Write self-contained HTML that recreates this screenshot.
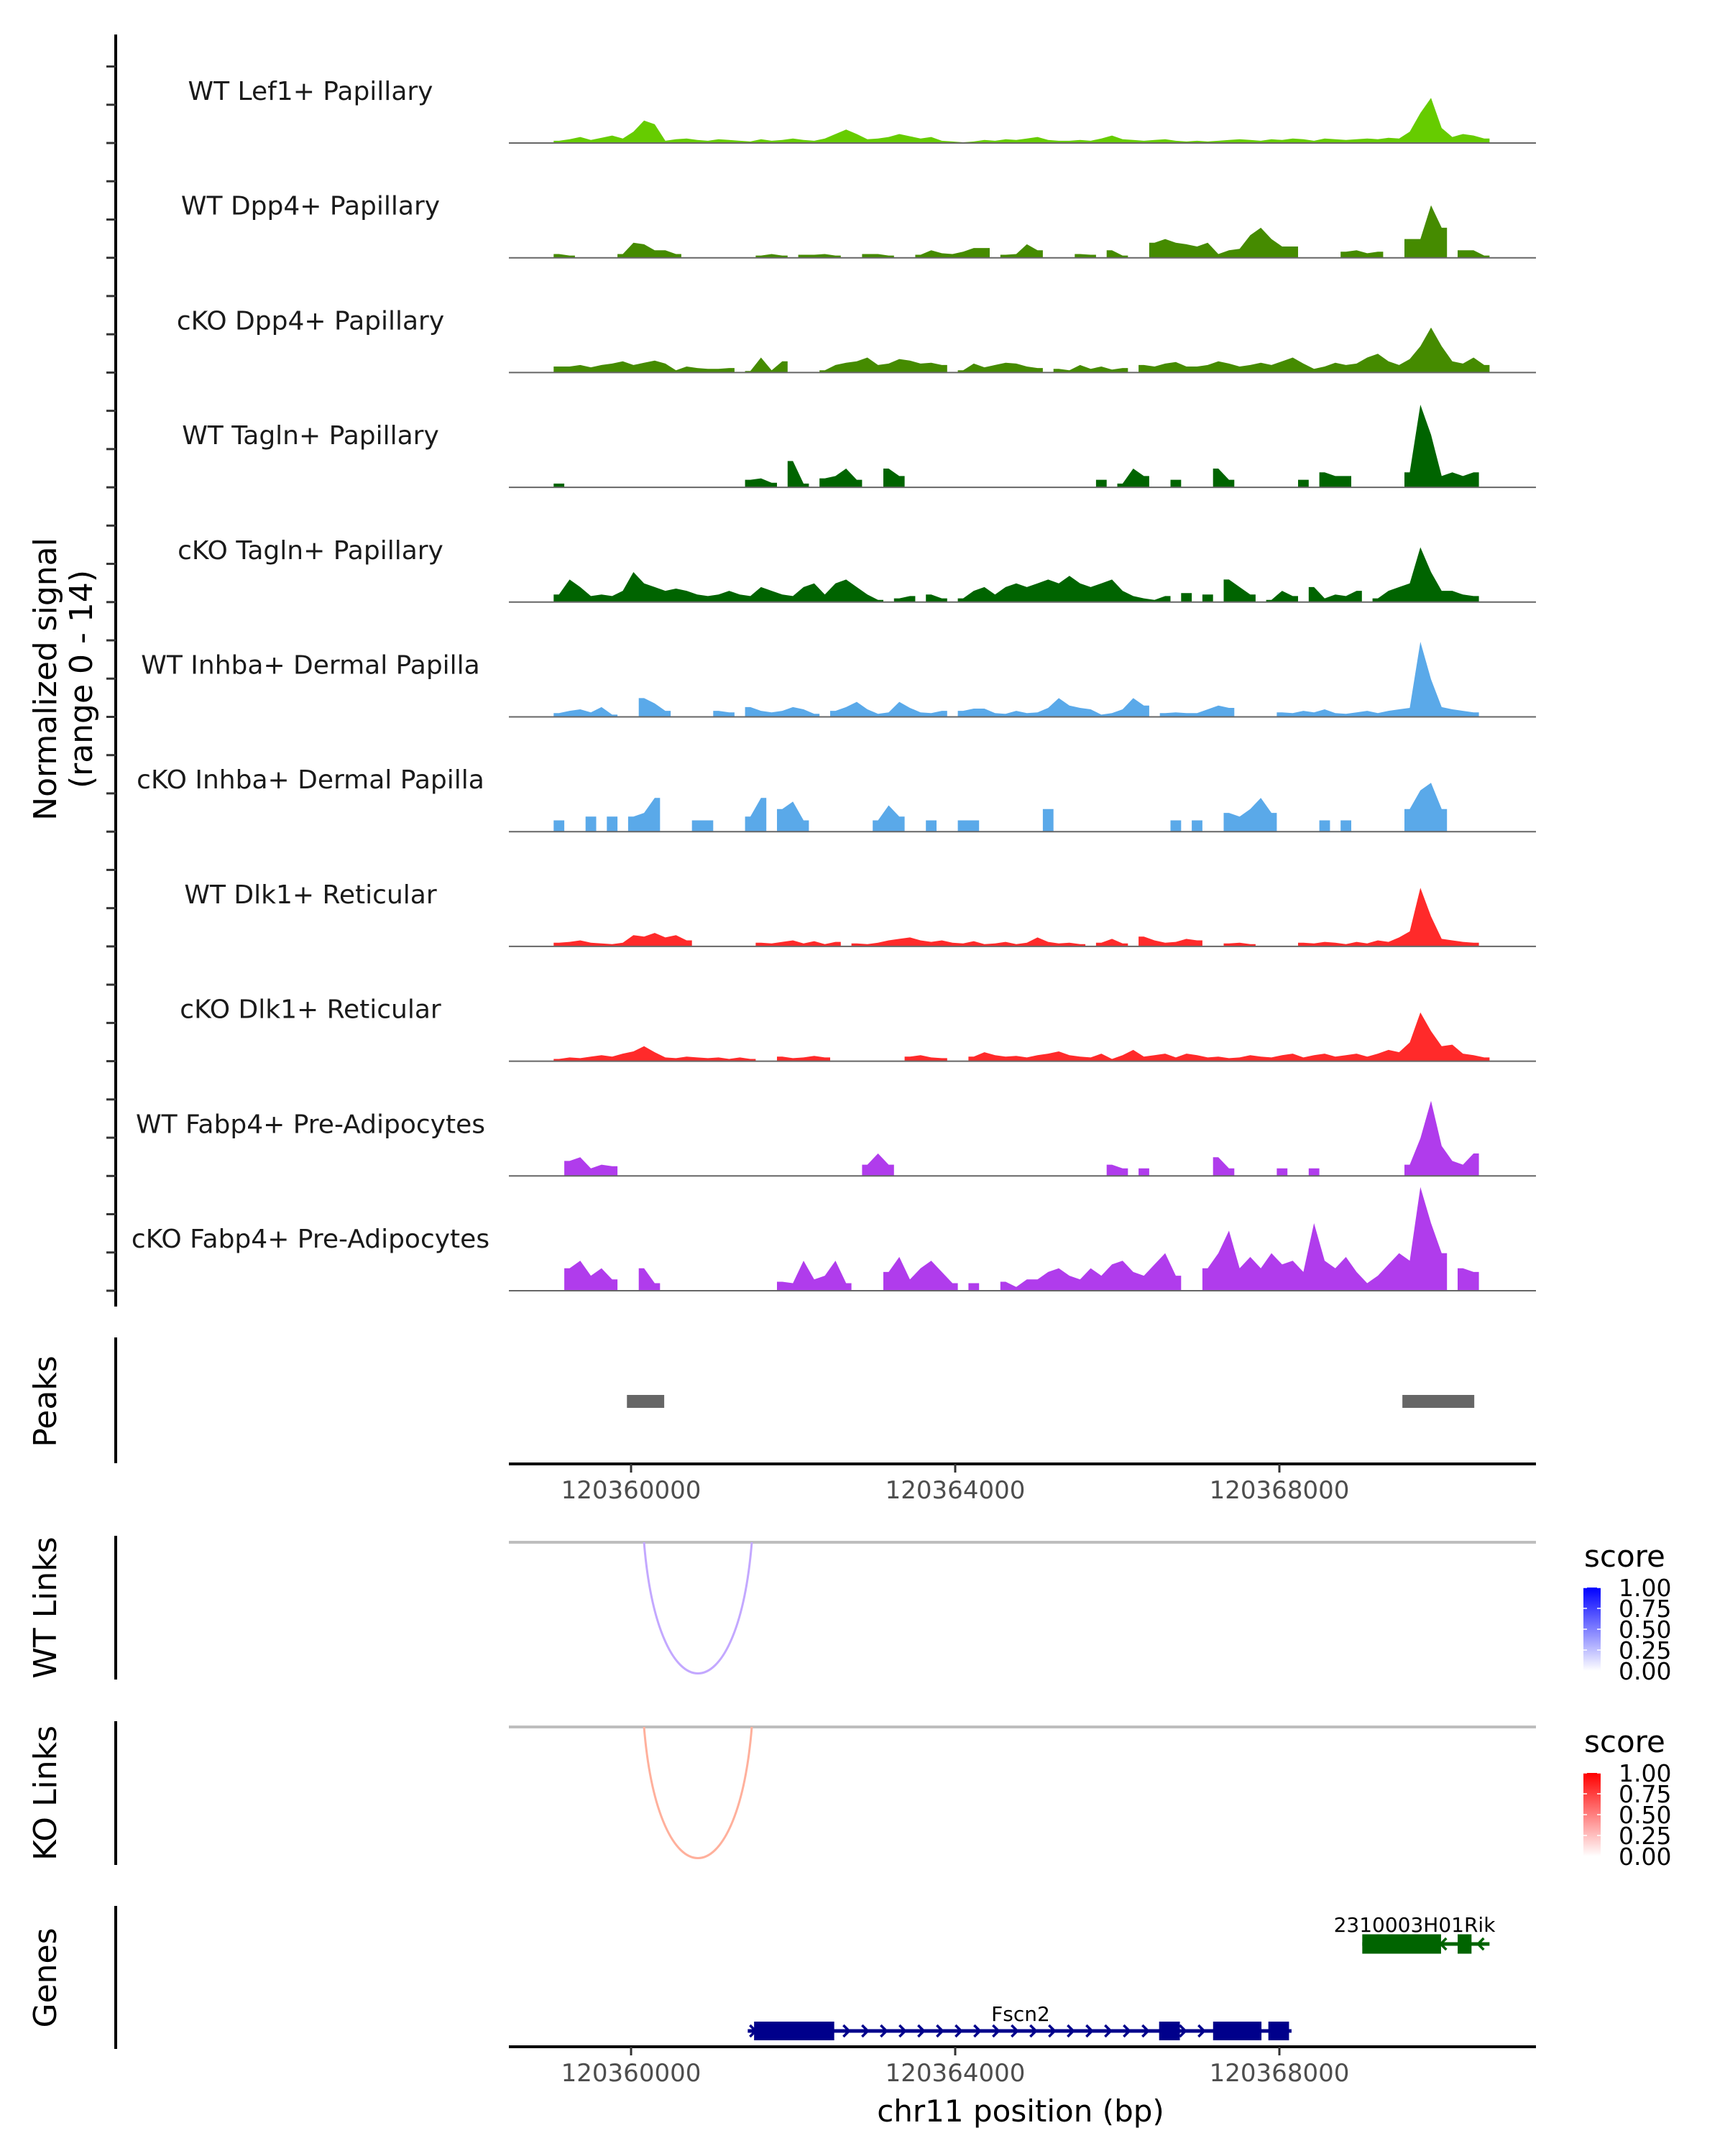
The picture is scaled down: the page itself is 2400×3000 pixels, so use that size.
<!DOCTYPE html>
<html><head><meta charset="utf-8"><style>
html,body{margin:0;padding:0;background:#fff;}
svg{display:block;font-family:"DejaVu Sans","Liberation Sans",sans-serif;}
</style></head><body>
<svg id="fig" width="2400" height="3000" viewBox="0 0 2400 3000" xmlns="http://www.w3.org/2000/svg">
<defs>
<linearGradient id="gBlue" x1="0" y1="1" x2="0" y2="0"><stop offset="0" stop-color="#ffffff"/><stop offset="1" stop-color="#0000ff"/></linearGradient>
<linearGradient id="gRed" x1="0" y1="1" x2="0" y2="0"><stop offset="0" stop-color="#ffffff"/><stop offset="1" stop-color="#ff0000"/></linearGradient>
</defs>
<g id="tracks"></g>
<g id="lefty">
<line x1="161" y1="48" x2="161" y2="1818" stroke="#000" stroke-width="4"/>
<text transform="translate(78,945) rotate(-90)" text-anchor="middle" font-size="44">Normalized signal</text>
<text transform="translate(128,945) rotate(-90)" text-anchor="middle" font-size="44">(range 0 - 14)</text>
</g>
<g>
<line x1="161" y1="1861" x2="161" y2="2036" stroke="#000" stroke-width="4"/>
<text transform="translate(78,1950) rotate(-90)" text-anchor="middle" font-size="44">Peaks</text>
<g id="peaks"></g>
</g>
<g id="xaxis1"></g>
<g>
<line x1="161" y1="2137" x2="161" y2="2337" stroke="#000" stroke-width="4"/>
<text transform="translate(78,2237) rotate(-90)" text-anchor="middle" font-size="44">WT Links</text>
<line x1="708" y1="2146" x2="2137" y2="2146" stroke="#bebebe" stroke-width="4"/>
<g id="wtlinks"></g>
</g>
<g>
<line x1="161" y1="2395" x2="161" y2="2595" stroke="#000" stroke-width="4"/>
<text transform="translate(78,2495) rotate(-90)" text-anchor="middle" font-size="44">KO Links</text>
<line x1="708" y1="2403" x2="2137" y2="2403" stroke="#bebebe" stroke-width="4"/>
<g id="kolinks"></g>
</g>
<g id="legends"></g>
<g>
<line x1="161" y1="2652" x2="161" y2="2851" stroke="#000" stroke-width="4"/>
<text transform="translate(78,2752) rotate(-90)" text-anchor="middle" font-size="44">Genes</text>
<g id="genes"></g>
</g>
<g id="xaxis2"></g>
<text x="1420" y="2952" text-anchor="middle" font-size="42">chr11 position (bp)</text>
</svg>
<script>
const NS="http://www.w3.org/2000/svg";
const trackNames=["WT Lef1+ Papillary","WT Dpp4+ Papillary","cKO Dpp4+ Papillary","WT Tagln+ Papillary","cKO Tagln+ Papillary","WT Inhba+ Dermal Papilla","cKO Inhba+ Dermal Papilla","WT Dlk1+ Reticular","cKO Dlk1+ Reticular","WT Fabp4+ Pre-Adipocytes","cKO Fabp4+ Pre-Adipocytes"];
const trackColors=["#66cc00","#458b00","#458b00","#006400","#006400","#5aa9e9","#5aa9e9","#ff2a2a","#ff2a2a","#b03cec","#b03cec"];
const lef1=[0.3,0.5,0.8,0.4,0.7,1,0.6,1.5,3,2.5,0.3,0.5,0.6,0.4,0.3,0.5,0.4,0.3,0.2,0.5,0.3,0.4,0.6,0.4,0.3,0.6,1.2,1.8,1.2,0.5,0.6,0.8,1.2,0.9,0.6,0.8,0.3,0.2,0.1,0.2,0.4,0.3,0.5,0.4,0.6,0.8,0.4,0.3,0.3,0.4,0.3,0.6,1.0,0.5,0.4,0.3,0.4,0.5,0.3,0.2,0.3,0.2,0.3,0.4,0.5,0.4,0.3,0.5,0.4,0.6,0.5,0.3,0.6,0.5,0.4,0.5,0.6,0.5,0.7,0.6,1.5,4,6,2,0.8,1.2,1,0.6];
const wtDpp4=[0.5,0.3,0,0,0,0,0.5,2,1.8,1,1,0.5,0,0,0,0,0,0,0,0.3,0.5,0.3,0,0.4,0.4,0.5,0.3,0,0,0.5,0.5,0.3,0,0,0.4,1,0.6,0.5,0.8,1.3,1.3,0,0.4,0.5,1.8,1,0,0,0,0.5,0.4,0,1,0.3,0,0,2,2.5,2,1.8,1.5,2,0.5,1,1.2,3,4,2.5,1.5,1.5,0,0,0,0,0.8,1,0.6,0.8,0,0,2.5,2.5,7,4,0,1,1,0.3];
const koDpp4=[0.8,0.8,1,0.7,1,1.2,1.5,1,1.3,1.6,1.2,0.3,0.8,0.6,0.5,0.5,0.6,0,0.2,2,0.3,1.5,0,0,0,0.3,1,1.3,1.5,2,1,1.2,1.8,1.6,1.2,1.3,1,0,0.3,1.2,0.7,1,1.3,1.2,0.8,0.6,0,0.5,0.3,1,0.5,0.8,0.4,0.6,0,1,0.8,1.2,1.4,0.8,0.8,1,1.5,1.2,0.8,1,1.3,1,1.5,2,1.2,0.5,0.8,1.3,1,1.2,2,2.5,1.5,1,1.8,3.5,6,3.5,1.5,1.2,2,1];
const wtTagln=[0.5,0,0,0,0,0,0,0,0,0,0,0,0,0,0,0,0,0,1,1.2,0.6,0,3.5,0.5,0,1.2,1.5,2.5,1,0,0,2.5,1.5,0,0,0,0,0,0,0,0,0,0,0,0,0,0,0,0,0,0,1,0,0.5,2.5,1.5,0,0,1,0,0,0,2.5,1,0,0,0,0,0,0,1,0,2,1.5,1.5,0,0,0,0,0,2,11,7,1.5,2,1.5,2,0];
const koTagln=[1,3,2,0.8,1,0.8,1.5,4,2.5,2,1.5,1.8,1.5,1,0.8,1,1.5,1,0.8,2,1.5,1,0.8,2,2.5,1,2.5,3,2,1,0.3,0,0.5,0.8,0,1,0.5,0,0.5,1.5,2,1,2,2.5,2,2.5,3,2.5,3.5,2.5,2,2.5,3,1.5,0.8,0.5,0.3,0.8,0,1.2,0,1,0,3,2,1,0,0.3,1.5,0.8,0,2,0.5,1,0.8,1.5,0,0.5,1.5,2,2.5,7.3,4,1.5,1.5,1,0.8,0];
const wtInhba=[0.5,0.8,1,0.6,1.3,0.3,0,0,2.5,1.8,0.8,0,0,0,0,0.8,0.6,0,1.3,0.8,0.6,0.8,1.3,1,0.4,0,0.8,1.3,2,1,0.4,0.6,2,1.2,0.6,0.5,0.8,0,0.8,1.1,1.1,0.5,0.4,0.8,0.5,0.6,1.2,2.5,1.5,1.2,1,0.3,0.5,1,2.5,1.5,0,0.5,0.6,0.5,0.5,1,1.5,1.2,0,0,0,0,0.6,0.5,0.8,0.6,1,0.5,0.4,0.6,0.8,0.5,0.8,1,1.2,10,5,1.3,1,0.8,0.6,0];
const koInhba=[1.5,0,0,2,0,2,0,2,2.5,4.5,0,0,0,1.5,1.5,0,0,0,2,4.5,0,3,4,1.5,0,0,0,0,0,0,1.5,3.5,2,0,0,1.5,0,0,1.5,1.5,0,0,0,0,0,0,3,0,0,0,0,0,0,0,0,0,0,0,1.5,0,1.5,0,0,2.5,2,3,4.5,2.5,0,0,0,0,1.5,0,1.5,0,0,0,0,0,3,5.5,6.5,3,0,0,0,0];
const wtDlk1=[0.5,0.6,0.8,0.5,0.4,0.3,0.5,1.5,1.3,1.8,1.2,1.5,0.8,0,0,0,0,0,0,0.5,0.4,0.6,0.8,0.4,0.7,0.3,0.6,0,0.4,0.3,0.5,0.8,1,1.2,0.8,0.6,0.8,0.5,0.4,0.7,0.3,0.4,0.6,0.3,0.5,1.2,0.6,0.4,0.5,0.3,0,0.5,1,0.4,0,1.3,0.8,0.5,0.6,1,0.8,0,0,0.4,0.5,0.3,0,0,0,0,0.5,0.4,0.6,0.5,0.3,0.6,0.4,0.8,0.6,1.2,2,7.8,4,1,0.8,0.6,0.5,0];
const koDlk1=[0.3,0.5,0.4,0.6,0.8,0.6,1,1.3,2,1.2,0.5,0.4,0.6,0.5,0.4,0.5,0.3,0.5,0.3,0,0,0.6,0.4,0.5,0.7,0.5,0,0,0,0,0,0,0,0.6,0.8,0.5,0.4,0,0,0.6,1.2,0.8,0.6,0.7,0.5,0.8,1,1.3,0.8,0.6,0.5,1,0.3,0.8,1.5,0.6,0.8,1,0.5,1,0.8,0.5,0.6,0.4,0.5,0.8,0.6,0.5,0.8,1,0.5,0.8,1,0.6,0.8,1,0.6,1,1.5,1.2,2.5,6.5,4,2,2.2,1,0.8,0.5];
const wtFabp4=[0,2,2.5,1,1.5,1.3,0,0,0,0,0,0,0,0,0,0,0,0,0,0,0,0,0,0,0,0,0,0,0,1.5,3,1.5,0,0,0,0,0,0,0,0,0,0,0,0,0,0,0,0,0,0,0,0,1.5,1,0,1,0,0,0,0,0,0,2.5,1,0,0,0,0,1,0,0,1,0,0,0,0,0,0,0,0,1.5,5,10,4,2,1.5,3,0];
const koFabp4=[0,3,4,2,3,1.5,0,0,3,1,0,0,0,0,0,0,0,0,0,0,0,1.2,1,4,1.5,2,4,1,0,0,0,2.5,4.5,1.5,3,4,2.5,1,0,1,0,0,1.2,0.5,1.5,1.5,2.5,3,2,1.5,3,2,3.5,4,2.5,2,3.5,5,2,0,0,3,5,8,3,4.5,3,5,3.5,4,2.5,9,4,3,4.5,2.5,1,2,3.5,5,4,13.8,9,5,0,3,2.5,0];
const trackValues=[lef1,wtDpp4,koDpp4,wtTagln,koTagln,wtInhba,koInhba,wtDlk1,koDlk1,wtFabp4,koFabp4];
const dataStartBp=120359045, dataEndBp=120370593;
const xTicks=[120360000,120364000,120368000];
const peakStarts=[120359949,120369518];
const peakEnds=[120360409,120370405];
const wtLinkStart=[120360160], wtLinkEnd=[120361490], wtLinkScore=[0.35];
const koLinkStart=[120360160], koLinkEnd=[120361490], koLinkScore=[0.35];
const legendTicks=[1.00,0.75,0.50,0.25,0.00];
const fscn2Exons=[[120361518,120362507],[120366516,120366772],[120367182,120367779],[120367864,120368119]];
const fscn2Range=[120361440,120368150];
const rikExons=[[120369023,120369995],[120370200,120370371]];
const rikRange=[120369023,120370593];

const X=bp=>878+(bp-120360000)*(451/4000);
const baseY=i=>199+i*159.7;
const pxPerUnit=10.45;
function el(tag,attrs,parent){const e=document.createElementNS(NS,tag);for(const k in attrs)e.setAttribute(k,attrs[k]);parent.appendChild(e);return e;}

const tracksG=document.getElementById('tracks');
trackValues.forEach((vals,i)=>{
  const g=el('g',{},tracksG);
  
  
  const y0=baseY(i);
  const n=vals.length, w=(dataEndBp-dataStartBp)/n;
  let d='', run=[];
  const flush=()=>{ if(run.length){ d+='M'+run[0][0].toFixed(1)+','+y0+run.map(p=>'L'+p[0].toFixed(1)+','+p[1].toFixed(1)).join('')+'L'+run[run.length-1][0].toFixed(1)+','+y0+'Z'; run=[]; } };
  for(let k=0;k<n;k++){
    const xa=X(dataStartBp+k*w), xb=X(dataStartBp+(k+1)*w), v=vals[k];
    if(v>0){
      const yy=y0-v*pxPerUnit;
      if(!run.length) run.push([xa,yy]);
      run.push([(xa+xb)/2,yy]);
      if(k===n-1||!(vals[k+1]>0)) run.push([xb,yy]);
    } else flush();
  }
  flush();
  const area=el('path',{d:d,fill:trackColors[i]},g);
  
  
  const bl=el('line',{x1:708,y1:y0,x2:2137,y2:y0,stroke:'#666',"stroke-width":2},g);
  
  
  const t=el('text',{x:432,y:y0-60,"text-anchor":"middle","font-size":36,fill:'#1a1a1a'},g);
  t.textContent=trackNames[i];
  
  
});
const ly=document.getElementById('lefty');
for(let k=-2;k<=30;k++){
  const y=199+k*159.7/3;
  const tk=el('line',{x1:148,y1:y,x2:161,y2:y,stroke:'#333',"stroke-width":3},ly);
  
  
}
const pg=document.getElementById('peaks');
peakStarts.forEach((s,i)=>{
  const r=el('rect',{x:X(s),y:1941,width:X(peakEnds[i])-X(s),height:18,fill:'#666'},pg);
  
  
});
function xaxis(id,y){
  const g=document.getElementById(id);
  el('line',{x1:708,y1:y,x2:2137,y2:y,stroke:'#000',"stroke-width":4},g);
  xTicks.forEach(t=>{
    const tk=el('line',{x1:X(t),y1:y,x2:X(t),y2:y+12,stroke:'#333',"stroke-width":3},g);
    
    
    const tx=el('text',{x:X(t),y:y+48,"text-anchor":"middle","font-size":34,fill:'#4d4d4d'},g);
    tx.textContent=String(t);
    
    
  });
}
xaxis('xaxis1',2037);
xaxis('xaxis2',2848);
function links(id,starts,ends,scores,top,depth,col){
  const g=document.getElementById(id);
  starts.forEach((s,i)=>{
    const x1=X(s),x2=X(ends[i]);
    const p=el('path',{d:`M${x1},${top} C${x1+20},${top+depth*1.33} ${x2-20},${top+depth*1.33} ${x2},${top}`,fill:'none',stroke:col,"stroke-width":3},g);
    
    
  });
}
links('wtlinks',wtLinkStart,wtLinkEnd,wtLinkScore,2146,183,'#c3a8ff');
links('kolinks',koLinkStart,koLinkEnd,koLinkScore,2403,183,'#ffb09c');
const lg=document.getElementById('legends');
[[0,'url(#gBlue)','wt'],[258,'url(#gRed)','ko']].forEach(([dy,grad,nm])=>{
  const g=el('g',{},lg);
  
  
  const t=el('text',{x:2204,y:2180+dy,"font-size":42},g);t.textContent='score';
  el('rect',{x:2203,y:2209+dy,width:24,height:116,fill:grad},g);
  legendTicks.forEach(v=>{
    const y=2325+dy-v*116;
    el('line',{x1:2203,y1:y,x2:2208,y2:y,stroke:'#fff',"stroke-width":1.5},g);
    el('line',{x1:2222,y1:y,x2:2227,y2:y,stroke:'#fff',"stroke-width":1.5},g);
    const tx=el('text',{x:2252,y:y+12,"font-size":33},g);tx.textContent=v.toFixed(2);
  });
});
const gg=document.getElementById('genes');
function gene(name,range,exons,y,h,col,dir,labelY,labelX){
  const g=el('g',{},gg);
  
  
  el('line',{x1:X(range[0]),y1:y,x2:X(range[1]),y2:y,stroke:col,"stroke-width":5},g);
  for(let x=X(range[0])+8;x<X(range[1])-4;x+=26){
    const d=dir>0?`M${x-5},${y-8} L${x+3},${y} L${x-5},${y+8}`:`M${x+5},${y-8} L${x-3},${y} L${x+5},${y+8}`;
    el('path',{d:d,fill:'none',stroke:col,"stroke-width":3.5},g);
  }
  exons.forEach(e=>{el('rect',{x:X(e[0]),y:y-h/2,width:X(e[1])-X(e[0]),height:h,fill:col},g);});
  const t=el('text',{x:labelX,y:labelY,"text-anchor":"middle","font-size":28},g);t.textContent=name;
}
gene('Fscn2',fscn2Range,fscn2Exons,2826,26,'#00008b',1,2812,1420);
gene('2310003H01Rik',rikRange,rikExons,2705,27,'#006400',-1,2688,1968);
</script>
</body></html>
